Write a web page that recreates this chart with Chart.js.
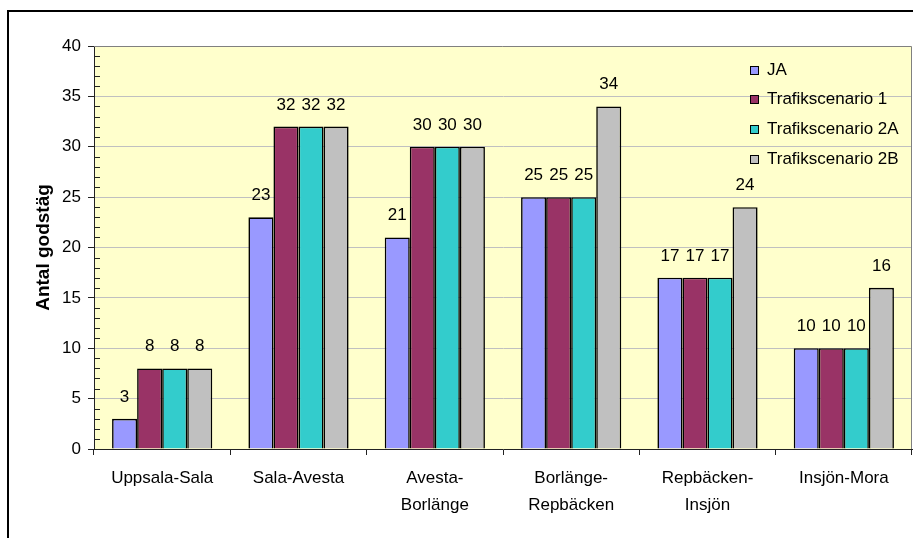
<!DOCTYPE html>
<html>
<head>
<meta charset="utf-8">
<script src="https://cdn.jsdelivr.net/npm/chart.js@4/dist/chart.umd.min.js"></script>
<style>
  html, body { margin: 0; padding: 0; background: #ffffff; }
  #wrap { width: 913px; height: 538px; }
</style>
</head>
<body>
<div id="wrap"><canvas id="c" width="913" height="538"></canvas></div>
<script>
// Route sections along the line
const categories = [
  'Uppsala-Sala',
  'Sala-Avesta',
  ['Avesta-', 'Borlänge'],
  ['Borlänge-', 'Repbäcken'],
  ['Repbäcken-', 'Insjön'],
  'Insjön-Mora'
];

// Number of freight trains per scenario
const seriesNames = ['JA', 'Trafikscenario 1', 'Trafikscenario 2A', 'Trafikscenario 2B'];
const ja = [3, 23, 21, 25, 17, 10];
const scen1 = [8, 32, 30, 25, 17, 10];
const scen2A = [8, 32, 30, 25, 17, 10];
const scen2B = [8, 32, 30, 34, 24, 16];

const yTicks = [0, 5, 10, 15, 20, 25, 30, 35, 40];
const yTitle = 'Antal godstäg';

const colors = ['#9999FF', '#993366', '#33CCCC', '#C0C0C0'];
const FONT = 'Arial, "Liberation Sans", sans-serif';

// Frame around the whole chart and pale plot background
const framePlugin = {
  id: 'frame',
  beforeDraw(chart) {
    const ctx = chart.ctx;
    const a = chart.chartArea;
    ctx.save();
    ctx.fillStyle = '#ffffff';
    ctx.fillRect(0, 0, chart.width, chart.height);
    ctx.fillStyle = '#FFFFCC';
    ctx.fillRect(a.left, a.top, a.right - a.left, a.bottom - a.top);
    ctx.strokeStyle = '#000000';
    ctx.lineWidth = 2;
    ctx.beginPath();
    ctx.moveTo(8, chart.height);
    ctx.lineTo(8, 11);
    ctx.lineTo(chart.width, 11);
    ctx.stroke();
    ctx.restore();
  },
  beforeDatasetsDraw(chart) {
    const ctx = chart.ctx;
    const a = chart.chartArea;
    const y = chart.scales.y;
    ctx.save();
    // plot border on top and right
    ctx.strokeStyle = '#808080';
    ctx.lineWidth = 1;
    ctx.beginPath();
    ctx.moveTo(a.left, a.top + 0.5);
    ctx.lineTo(a.right - 0.5, a.top + 0.5);
    ctx.lineTo(a.right - 0.5, a.bottom);
    ctx.stroke();
    // minor tick marks inside the value axis
    ctx.strokeStyle = '#222222';
    ctx.beginPath();
    for (let v = y.min; v <= y.max; v++) {
      if (v % 5 === 0) continue;
      const py = Math.round(y.getPixelForValue(v)) + 0.5;
      ctx.moveTo(a.left, py);
      ctx.lineTo(a.left + 6, py);
    }
    ctx.stroke();
    ctx.restore();
  }
};

// Value labels above each bar
const valueLabels = {
  id: 'valueLabels',
  afterDatasetsDraw(chart) {
    const ctx = chart.ctx;
    ctx.save();
    ctx.font = '17px ' + FONT;
    ctx.fillStyle = '#000000';
    ctx.textAlign = 'center';
    ctx.textBaseline = 'alphabetic';
    chart.data.datasets.forEach((ds, i) => {
      const meta = chart.getDatasetMeta(i);
      meta.data.forEach((bar, j) => {
        ctx.fillText(String(ds.data[j]), bar.x, bar.y - 17);
      });
    });
    ctx.restore();
  }
};

// Legend placed inside the plot area, top right
const insideLegend = {
  id: 'insideLegend',
  afterDraw(chart) {
    const ctx = chart.ctx;
    ctx.save();
    ctx.font = '17px ' + FONT;
    ctx.textAlign = 'left';
    ctx.textBaseline = 'middle';
    chart.data.datasets.forEach((ds, i) => {
      const cy = 70 + i * 29.7;
      ctx.fillStyle = ds.backgroundColor;
      ctx.fillRect(750, Math.round(cy - 4.5), 9, 9);
      ctx.strokeStyle = '#000000';
      ctx.lineWidth = 1;
      ctx.strokeRect(750.5, Math.round(cy - 4.5) + 0.5, 8, 8);
      ctx.fillStyle = '#000000';
      ctx.fillText(ds.label, 767, cy);
    });
    ctx.restore();
  }
};

const seriesValues = [ja, scen1, scen2A, scen2B];

new Chart(document.getElementById('c'), {
  type: 'bar',
  data: {
    labels: categories,
    datasets: seriesNames.map((name, i) => ({
      label: name,
      data: seriesValues[i],
      backgroundColor: colors[i],
      borderColor: '#000000',
      borderWidth: 1.6,
      borderSkipped: 'start',
      categoryPercentage: 0.735,
      barPercentage: 1.0
    }))
  },
  options: {
    responsive: false,
    animation: false,
    devicePixelRatio: 1,
    layout: { padding: { left: 0, top: 46, right: 1, bottom: 0 } },
    plugins: {
      legend: { display: false },
      tooltip: { enabled: false }
    },
    scales: {
      x: {
        afterFit(scale) { scale.height = 89; },
        grid: {
          offset: true,
          drawOnChartArea: false,
          drawTicks: true,
          tickLength: 6,
          tickColor: '#222222'
        },
        border: { display: true, color: '#222222', width: 1 },
        ticks: {
          color: '#000000',
          font: { family: FONT, size: 17, lineHeight: 1.59 },
          padding: 10,
          maxRotation: 0,
          autoSkip: false
        }
      },
      y: {
        min: 0,
        max: 40,
        afterFit(scale) { scale.width = 94; },
        afterBuildTicks(scale) { scale.ticks = yTicks.map(v => ({ value: v })); },
        grid: {
          color: (c) => (c.tick && c.tick.value === 40) ? 'rgba(0,0,0,0)' : '#C0C0C0',
          drawTicks: true,
          tickLength: 6,
          tickColor: '#222222'
        },
        border: { display: true, color: '#222222', width: 1 },
        ticks: {
          color: '#000000',
          font: { family: FONT, size: 17 },
          padding: 7
        },
        title: {
          display: true,
          text: yTitle,
          color: '#000000',
          font: { family: FONT, size: 19, weight: 'bold' },
          padding: { top: 32, bottom: 0 }
        }
      }
    }
  },
  plugins: [framePlugin, valueLabels, insideLegend]
});
</script>
</body>
</html>
